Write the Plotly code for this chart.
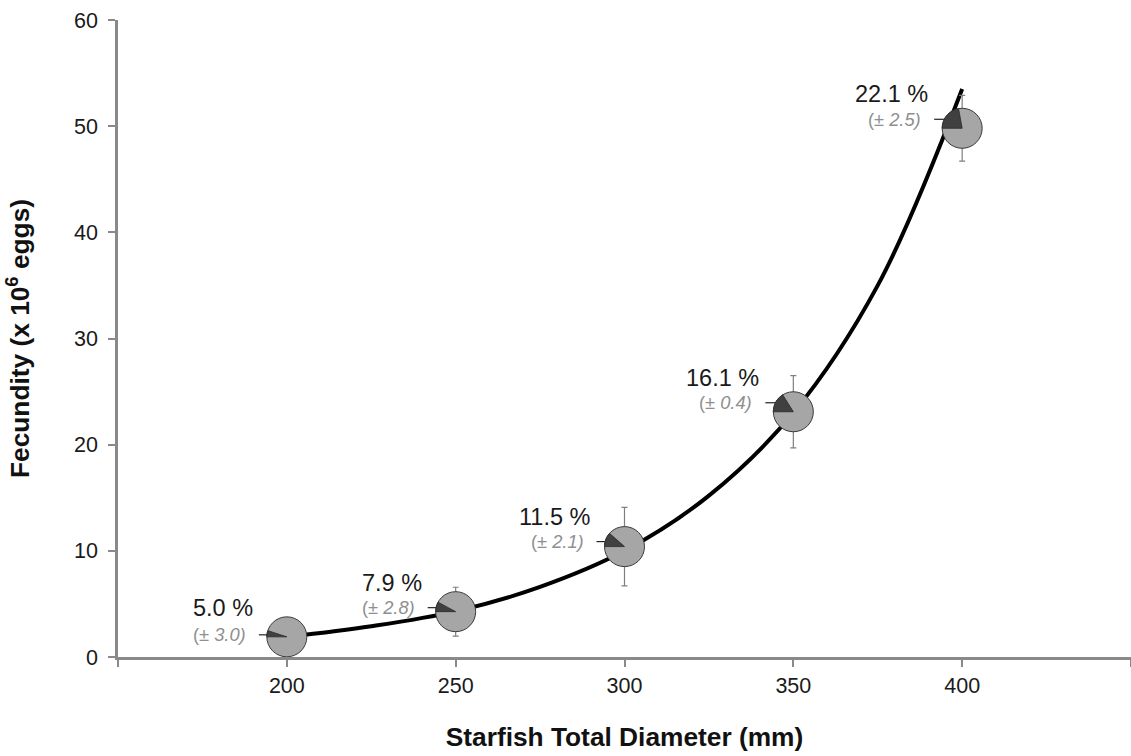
import numpy as np
import plotly.graph_objects as go

# ---- data ----
DIAMETER = [200, 250, 300, 350, 400]            # mm
FECUNDITY = [1.9, 4.27, 10.4, 23.1, 49.8]       # x10^6 eggs
FEC_ERR = [1.0, 2.3, 3.7, 3.4, 3.1]
PCT = [5.0, 7.9, 11.5, 16.1, 22.1]              # % (dark wedge)
PCT_SD = [3.0, 2.8, 2.1, 0.4, 2.5]
TREND_X = [200, 225, 250, 275, 300, 325, 350, 375, 400]
TREND_Y = [1.9, 2.9, 4.3, 6.6, 10.0, 15.2, 23.0, 35.0, 53.5]
X_TICKS = [200, 250, 300, 350, 400]
X_END_TICKS = [150, 450]
Y_TICKS = [0, 10, 20, 30, 40, 50, 60]

# ---- styles ----
FONT = "Liberation Sans, Arial, sans-serif"
AXIS_COLOR = "#898989"
PIE_LIGHT = "#a6a6a6"
PIE_DARK = "#404040"
R = 20  # pie radius in px
PCT_YSHIFT = [29, 29, 30, 34, 34]
SD_YSHIFT = [2, 4, 5, 9, 9]

fig = go.Figure()

# trendline
fig.add_trace(go.Scatter(
    x=TREND_X, y=TREND_Y, mode="lines",
    line=dict(color="black", width=4, shape="spline", smoothing=1.0),
    hoverinfo="skip", showlegend=False))

# pies (light disc) with error bars
fig.add_trace(go.Scatter(
    x=DIAMETER, y=FECUNDITY, mode="markers",
    marker=dict(size=2 * R, color=PIE_LIGHT, line=dict(color="#3a3a3a", width=1)),
    error_y=dict(type="data", array=FEC_ERR, visible=True,
                 color="#7f7f7f", thickness=1.2, width=3),
    showlegend=False))

shapes = []
annotations = []
for i, (xv, yv, p, sd) in enumerate(zip(DIAMETER, FECUNDITY, PCT, PCT_SD)):
    # dark wedge, starting at 9 o'clock going clockwise
    a0 = np.pi
    a1 = np.pi - 2 * np.pi * p / 100.0
    angs = np.linspace(a0, a1, 30)
    pts = ["M 0,0"] + [f"L {R*np.cos(a):.2f},{R*np.sin(a):.2f}" for a in angs] + ["Z"]
    shapes.append(dict(
        type="path", path=" ".join(pts),
        xref="x", yref="y", xsizemode="pixel", ysizemode="pixel",
        xanchor=xv, yanchor=yv,
        fillcolor=PIE_DARK, line=dict(color="#2a2a2a", width=0.8),
        layer="above"))
    # leader line from the label to the pie
    dy = SD_YSHIFT[i]
    shapes.append(dict(
        type="line", xref="x", yref="y", xsizemode="pixel", ysizemode="pixel",
        xanchor=xv, yanchor=yv, x0=-28, x1=0, y0=dy, y1=dy,
        line=dict(color="#222222", width=1.2), layer="below"))
    annotations.append(dict(
        x=xv, y=yv, xref="x", yref="y", text=f"{p:.1f} %",
        showarrow=False, xanchor="right", yanchor="middle",
        xshift=-32, yshift=PCT_YSHIFT[i],
        font=dict(family=FONT, size=23.5, color="#1a1a1a")))
    annotations.append(dict(
        x=xv, y=yv, xref="x", yref="y", text=f"(± <i>{sd:.1f})</i>",
        showarrow=False, xanchor="right", yanchor="middle",
        xshift=-39, yshift=dy,
        font=dict(family=FONT, size=18.3, color="#8f8f8f")))

fig.update_layout(
    width=1131, height=756,
    margin=dict(l=118, r=0, t=20, b=99),
    paper_bgcolor="white", plot_bgcolor="white",
    font=dict(family=FONT, size=21, color="#1a1a1a"),
    shapes=shapes, annotations=annotations,
    showlegend=False,
)
fig.update_xaxes(
    range=[150, 450], tickvals=X_TICKS,
    showline=True, linecolor=AXIS_COLOR, linewidth=2.5,
    ticks="outside", ticklen=7, tickwidth=1.5, tickcolor=AXIS_COLOR,
    minor=dict(tickvals=X_END_TICKS, ticks="outside", ticklen=7,
               tickwidth=1.5, tickcolor=AXIS_COLOR, showgrid=False),
    showgrid=False, zeroline=False,
    tickfont=dict(family=FONT, size=21.5, color="#1a1a1a"),
    title=dict(text="<b>Starfish Total Diameter (mm)</b>",
               font=dict(family=FONT, size=26.3, color="#111111"), standoff=32),
)
fig.update_yaxes(
    range=[0, 60], tickvals=Y_TICKS,
    showline=True, linecolor=AXIS_COLOR, linewidth=2.5,
    ticks="outside", ticklen=7, tickwidth=1.5, tickcolor=AXIS_COLOR,
    ticklabelstandoff=6,
    showgrid=False, zeroline=False,
    tickfont=dict(family=FONT, size=21.5, color="#1a1a1a"),
    title=dict(text="<b>Fecundity (x 10<sup>6</sup> eggs)</b>",
               font=dict(family=FONT, size=26.3, color="#111111"), standoff=37),
)

fig.write_html("out.html")
